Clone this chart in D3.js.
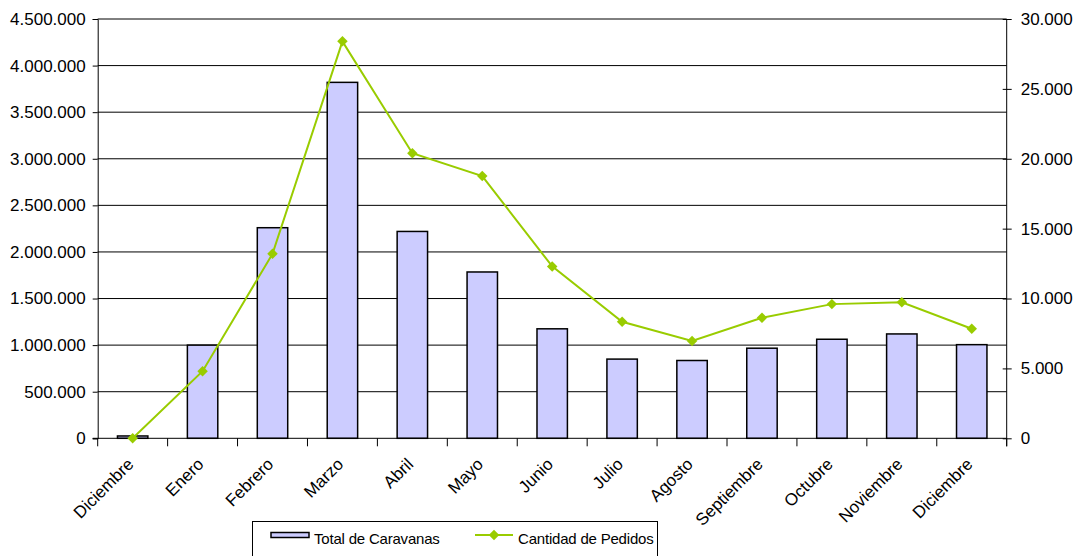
<!DOCTYPE html>
<html lang="es">
<head>
    <meta charset="UTF-8">
    <title>Caravanas y Pedidos</title>
    <script src="https://d3js.org/d3.v7.min.js"></script>
    <style>
        body { margin: 0; background: #fff; }
        text { font-family: "Liberation Sans", Arial, sans-serif; fill: #000; }
    </style>
</head>
<body>
<svg id="chart"></svg>
<script>

    // datos
    const meses = ["Diciembre", "Enero", "Febrero", "Marzo", "Abril", "Mayo", "Junio",
        "Julio", "Agosto", "Septiembre", "Octubre", "Noviembre", "Diciembre"];
    const totalCaravanas = [25000, 1000000, 2260000, 3820000, 2220000, 1785000, 1175000,
        850000, 835000, 967000, 1063000, 1120000, 1005000];
    const cantidadPedidos = [0, 4800, 13200, 28400, 20400, 18760, 12300,
        8340, 6960, 8630, 9600, 9730, 7840];
    const ticksIzq = [0, 500000, 1000000, 1500000, 2000000, 2500000, 3000000, 3500000, 4000000, 4500000];
    const ticksDer = [0, 5000, 10000, 15000, 20000, 25000, 30000];

    const width = 1076, height = 556;
    const margin = {left: 97.7, right: 1006.7, top: 19, bottom: 438.3};

    const svg = d3.select('#chart').attr('width', width).attr('height', height);

    const fmt = d3.formatLocale({decimal: ",", thousands: ".", grouping: [3], currency: ["", ""]}).format(",");

    // los indices se usan como dominio porque "Diciembre" se repite
    const x = d3.scaleBand()
        .domain(d3.range(meses.length))
        .range([margin.left, margin.right])
        .paddingInner(0.565)
        .paddingOuter(0.2825);

    const xStep = (margin.right - margin.left) / meses.length;

    const yL = d3.scaleLinear().domain([0, 4500000]).range([margin.bottom, margin.top]);
    const yR = d3.scaleLinear().domain([0, 30000]).range([margin.bottom, margin.top]);

    // lineas de grilla
    svg.append('g')
        .selectAll('line')
        .data(ticksIzq.slice(1))
        .join('line')
        .attr('x1', margin.left).attr('x2', margin.right)
        .attr('y1', d => yL(d)).attr('y2', d => yL(d))
        .attr('stroke', '#000').attr('stroke-width', 1);

    // barras
    svg.append('g')
        .selectAll('rect')
        .data(totalCaravanas)
        .join('rect')
        .attr('x', (d, i) => x(i))
        .attr('y', d => yL(d))
        .attr('width', x.bandwidth())
        .attr('height', d => yL(0) - yL(d))
        .attr('fill', '#CCCCFF')
        .attr('stroke', '#000')
        .attr('stroke-width', 1.5);

    // eje izquierdo
    const axisL = svg.append('g')
        .attr('transform', `translate(${margin.left},0)`)
        .call(d3.axisLeft(yL).tickValues(ticksIzq).tickFormat(fmt).tickSize(5).tickPadding(7));
    axisL.select('.domain').attr('stroke', '#000');
    axisL.selectAll('text').style('font-size', '17px').attr('fill', '#000');

    // eje derecho
    const axisR = svg.append('g')
        .attr('transform', `translate(${margin.right},0)`)
        .call(d3.axisRight(yR).tickValues(ticksDer).tickFormat(fmt).tickSize(5).tickPadding(9));
    axisR.select('.domain').attr('d', `M0,${margin.top}V${margin.bottom + 8}`);
    axisR.selectAll('.tick line').attr('x1', -4);
    axisR.selectAll('text').style('font-size', '17px').attr('fill', '#000');

    // eje x
    const gx = svg.append('g');
    gx.append('line')
        .attr('x1', margin.left - 5).attr('x2', margin.right)
        .attr('y1', margin.bottom).attr('y2', margin.bottom)
        .attr('stroke', '#000');
    gx.selectAll('line.tk')
        .data(d3.range(meses.length + 1))
        .join('line')
        .attr('class', 'tk')
        .attr('x1', i => margin.left + i * xStep).attr('x2', i => margin.left + i * xStep)
        .attr('y1', margin.bottom).attr('y2', margin.bottom + 8)
        .attr('stroke', '#000');
    gx.selectAll('text')
        .data(meses)
        .join('text')
        .attr('transform', (d, i) => `translate(${x(i) + x.bandwidth() / 2 + 2},${margin.bottom + 27}) rotate(-45)`)
        .attr('text-anchor', 'end')
        .style('font-size', '17px')
        .text(d => d);

    // linea de pedidos
    const line = d3.line()
        .x((d, i) => x(i) + x.bandwidth() / 2)
        .y(d => yR(d));
    svg.append('path')
        .datum(cantidadPedidos)
        .attr('d', line)
        .attr('fill', 'none')
        .attr('stroke', '#99CC00')
        .attr('stroke-width', 2);

    const diamond = d3.symbol().type(d3.symbolDiamond2).size(70);
    svg.append('g')
        .selectAll('path')
        .data(cantidadPedidos)
        .join('path')
        .attr('transform', (d, i) => `translate(${x(i) + x.bandwidth() / 2},${yR(d)})`)
        .attr('d', diamond)
        .attr('fill', '#99CC00');

    // leyenda
    const lg = svg.append('g');
    lg.append('rect')
        .attr('x', 252.5).attr('y', 521.5)
        .attr('width', 405).attr('height', 50)
        .attr('fill', '#fff').attr('stroke', '#000');
    lg.append('rect')
        .attr('x', 271).attr('y', 532.5).attr('width', 38).attr('height', 5)
        .attr('fill', '#CCCCFF').attr('stroke', '#000').attr('stroke-width', 1.5);
    lg.append('text').attr('x', 314).attr('y', 543.5)
        .style('font-size', '15px').style('letter-spacing', '-0.2px')
        .text('Total de Caravanas');
    lg.append('line')
        .attr('x1', 475).attr('x2', 513).attr('y1', 535).attr('y2', 535)
        .attr('stroke', '#99CC00').attr('stroke-width', 2);
    lg.append('path')
        .attr('transform', 'translate(494,535)')
        .attr('d', diamond)
        .attr('fill', '#99CC00');
    lg.append('text').attr('x', 518).attr('y', 543.5)
        .style('font-size', '15px').style('letter-spacing', '-0.2px')
        .text('Cantidad de Pedidos');

</script>
</body>
</html>
